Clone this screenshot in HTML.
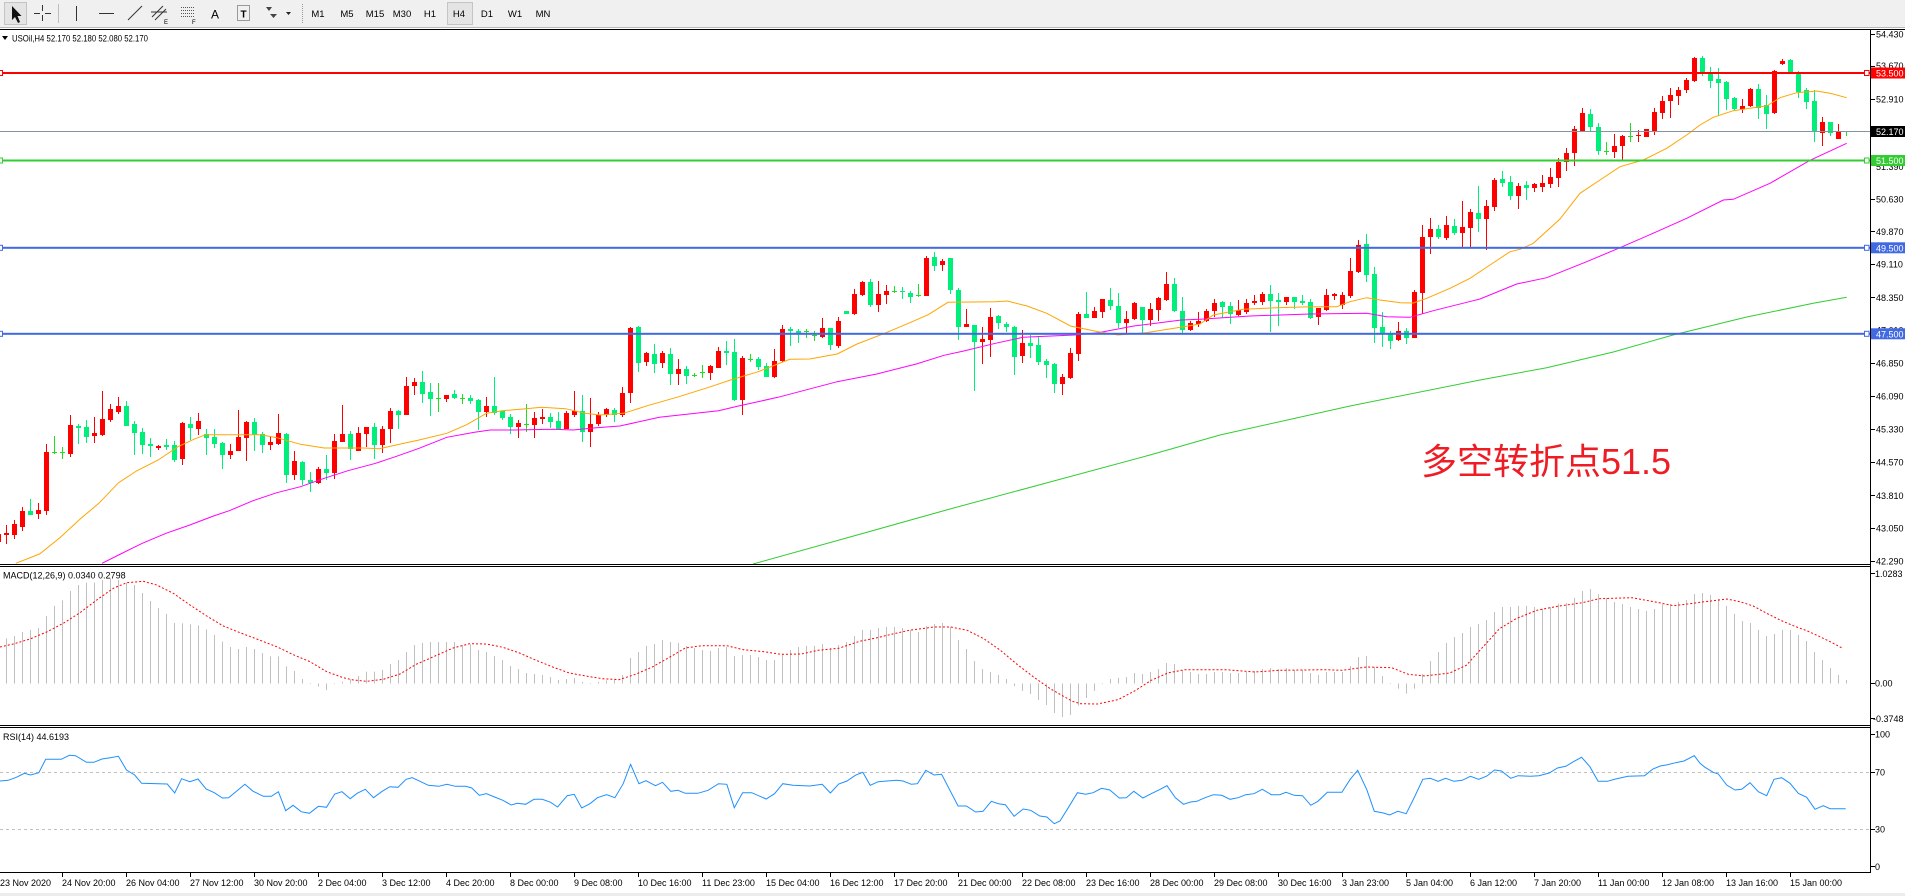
<!DOCTYPE html>
<html><head><meta charset="utf-8"><style>
html,body{margin:0;padding:0;background:#fff;width:1905px;height:896px;overflow:hidden}
svg{display:block}
text{font-family:"Liberation Sans","Noto Sans CJK SC",sans-serif;fill:#000}
</style></head><body>
<svg id="c" width="1905" height="896" viewBox="0 0 1905 896" xmlns="http://www.w3.org/2000/svg">
<rect width="1905" height="896" fill="#fff"/>
<!-- toolbar -->
<rect x="0" y="0" width="1905" height="27" fill="#f0f0f0"/>
<line x1="0" y1="27.5" x2="1905" y2="27.5" stroke="#b8b8b8"/>
<rect x="4.5" y="2.5" width="22" height="22" fill="#e4e4e4" stroke="#c4c4c4"/>
<polygon points="12,6 12,20 15,17 18,23 20,22 17.5,16 21.5,16" fill="#111"/>
<g stroke="#333" stroke-width="1">
<line x1="42.5" y1="5" x2="42.5" y2="11"/><line x1="42.5" y1="15" x2="42.5" y2="21"/>
<line x1="34" y1="13.5" x2="40" y2="13.5"/><line x1="45" y1="13.5" x2="51" y2="13.5"/>
<line x1="76.5" y1="6" x2="76.5" y2="21"/>
<line x1="99" y1="13.5" x2="114" y2="13.5"/>
<line x1="128" y1="20" x2="142" y2="6"/>
<line x1="152" y1="17" x2="163" y2="6"/><line x1="155" y1="20" x2="166" y2="9"/><line x1="151" y1="12" x2="167" y2="12"/>
</g>
<line x1="58.5" y1="4" x2="58.5" y2="23" stroke="#bdbdbd"/>
<text x="164" y="24" font-size="6">E</text>
<g stroke="#555" stroke-dasharray="1,1"><line x1="181" y1="7.5" x2="195" y2="7.5"/><line x1="181" y1="10.5" x2="195" y2="10.5"/><line x1="181" y1="13.5" x2="195" y2="13.5"/><line x1="181" y1="16.5" x2="195" y2="16.5"/></g>
<text x="192" y="24" font-size="6">F</text>
<text x="215" y="18.5" font-size="12" text-anchor="middle" fill="#222">A</text>
<rect x="237.5" y="5.5" width="12" height="15" fill="none" stroke="#444" stroke-dasharray="1,1"/>
<text x="243.5" y="17.5" font-size="10" text-anchor="middle" font-weight="bold">T</text>
<polygon points="266,7 272,7 269,11" fill="#444"/><polygon points="270,14 277,14 273.5,18" fill="#444"/>
<polygon points="286,12 291,12 288.5,15" fill="#222"/>
<line x1="302.5" y1="4" x2="302.5" y2="23" stroke="#999" stroke-dasharray="1,1"/>
<rect x="447.5" y="2.5" width="25" height="22" fill="#e4e4e4" stroke="#c4c4c4"/>
<g font-size="9.5" text-anchor="middle">
<text x="318" y="17">M1</text><text x="347" y="17">M5</text><text x="375" y="17">M15</text><text x="402" y="17">M30</text><text x="430" y="17">H1</text><text x="459" y="17">H4</text><text x="487" y="17">D1</text><text x="515" y="17">W1</text><text x="543" y="17">MN</text>
</g>

<g id="candles"></g>
<g id="mas"></g>

<!-- horizontal lines -->
<line x1="0" y1="131.5" x2="1871" y2="131.5" stroke="#8494a4"/>
<rect x="0" y="72" width="1871" height="2" fill="#ff0000"/>
<rect x="0" y="159.5" width="1871" height="2" fill="#32cd32"/>
<rect x="0" y="246.8" width="1871" height="2" fill="#4169e1"/>
<rect x="0" y="332.8" width="1871" height="2" fill="#4169e1"/>
<g fill="#fff" stroke-width="1">
<rect x="-1.5" y="70.5" width="4" height="5" stroke="#ff0000"/><rect x="1864.5" y="70.5" width="4.5" height="5" stroke="#ff0000"/>
<rect x="-1.5" y="158" width="4" height="5" stroke="#32cd32"/><rect x="1864.5" y="158" width="4.5" height="5" stroke="#32cd32"/>
<rect x="-1.5" y="245.3" width="4" height="5" stroke="#4169e1"/><rect x="1864.5" y="245.3" width="4.5" height="5" stroke="#4169e1"/>
<rect x="-1.5" y="331.3" width="4" height="5" stroke="#4169e1"/><rect x="1864.5" y="331.3" width="4.5" height="5" stroke="#4169e1"/>
</g>

<!-- annotation -->
<text x="1421" y="474" font-size="36" style="fill:#ee1c24">多空转折点51.5</text>

<!-- indicator panels -->
<g id="ind"></g>
<line x1="0" y1="772.5" x2="1871" y2="772.5" stroke="#c0c0c0" stroke-dasharray="3,3"/>
<line x1="0" y1="829.5" x2="1871" y2="829.5" stroke="#c0c0c0" stroke-dasharray="3,3"/>
<g id="rsi"></g>

<!-- frames -->
<g stroke="#000" stroke-width="1">
<line x1="0" y1="29.5" x2="1905" y2="29.5"/>
<line x1="0" y1="564.5" x2="1871" y2="564.5"/>
<line x1="0" y1="566.5" x2="1871" y2="566.5"/>
<line x1="0" y1="725.5" x2="1871" y2="725.5"/>
<line x1="0" y1="727.5" x2="1871" y2="727.5"/>
<line x1="0" y1="872.5" x2="1871" y2="872.5"/>
<line x1="1870.5" y1="29.5" x2="1870.5" y2="873"/>
</g>
<rect x="0" y="893" width="1905" height="3" fill="#ececec"/>

<!-- header labels -->
<polygon points="2,36 8,36 5,40" fill="#000"/>
<text x="12" y="41.5" font-size="9" textLength="136" lengthAdjust="spacingAndGlyphs">USOil,H4  52.170 52.180 52.080 52.170</text>
<text x="3" y="578.5" font-size="9">MACD(12,26,9) 0.0340 0.2798</text>
<text x="3" y="740" font-size="9">RSI(14) 44.6193</text>

<!-- price axis -->
<g stroke="#000">
<line x1="1871" y1="34.5" x2="1875" y2="34.5"/><line x1="1871" y1="66.5" x2="1875" y2="66.5"/><line x1="1871" y1="99.5" x2="1875" y2="99.5"/>
<line x1="1871" y1="199.5" x2="1875" y2="199.5"/><line x1="1871" y1="231.5" x2="1875" y2="231.5"/><line x1="1871" y1="264.5" x2="1875" y2="264.5"/>
<line x1="1871" y1="297.5" x2="1875" y2="297.5"/><line x1="1871" y1="363.5" x2="1875" y2="363.5"/><line x1="1871" y1="396.5" x2="1875" y2="396.5"/>
<line x1="1871" y1="429.5" x2="1875" y2="429.5"/><line x1="1871" y1="462.5" x2="1875" y2="462.5"/><line x1="1871" y1="495.5" x2="1875" y2="495.5"/>
<line x1="1871" y1="528.5" x2="1875" y2="528.5"/><line x1="1871" y1="561.5" x2="1875" y2="561.5"/>
<line x1="1871" y1="573.5" x2="1875" y2="573.5"/><line x1="1871" y1="683.5" x2="1875" y2="683.5"/><line x1="1871" y1="718.5" x2="1875" y2="718.5"/>
<line x1="1871" y1="734.5" x2="1875" y2="734.5"/><line x1="1871" y1="772.5" x2="1875" y2="772.5"/><line x1="1871" y1="829.5" x2="1875" y2="829.5"/><line x1="1871" y1="866.5" x2="1875" y2="866.5"/>
</g>
<g font-size="9">
<text x="1876" y="37.3">54.430</text>
<text x="1876" y="69">53.670</text>
<text x="1876" y="102.6">52.910</text>
<text x="1876" y="169.8">51.390</text>
<text x="1876" y="202.3">50.630</text>
<text x="1876" y="235">49.870</text>
<text x="1876" y="267.3">49.110</text>
<text x="1876" y="301">48.350</text>
<text x="1876" y="333.3">47.610</text>
<text x="1876" y="366.3">46.850</text>
<text x="1876" y="399.3">46.090</text>
<text x="1876" y="432.3">45.330</text>
<text x="1876" y="465.3">44.570</text>
<text x="1876" y="499">43.810</text>
<text x="1876" y="531.3">43.050</text>
<text x="1876" y="564.3">42.290</text>
<text x="1875" y="577">1.0283</text>
<text x="1875" y="686.6">0.00</text>
<text x="1873" y="722">-0.3748</text>
<text x="1875" y="737.6">100</text>
<text x="1875" y="775.6">70</text>
<text x="1875" y="832.6">30</text>
<text x="1875" y="870">0</text>
</g>
<rect x="1871" y="67.5" width="34" height="11" fill="#ff0000"/>
<rect x="1871" y="126" width="34" height="11" fill="#000"/>
<rect x="1871" y="155" width="34" height="11" fill="#32cd32"/>
<rect x="1871" y="242.3" width="34" height="11" fill="#4169e1"/>
<rect x="1871" y="328.3" width="34" height="11" fill="#4169e1"/>
<g font-size="9" style="fill:#fff">
<text x="1876" y="76.6" style="fill:#fff">53.500</text>
<text x="1876" y="135" style="fill:#fff">52.170</text>
<text x="1876" y="164" style="fill:#fff">51.500</text>
<text x="1876" y="251.3" style="fill:#fff">49.500</text>
<text x="1876" y="337.3" style="fill:#fff">47.500</text>
</g>

<!-- time axis -->
<g stroke="#000">
<line x1="62.5" y1="873" x2="62.5" y2="877"/><line x1="126.5" y1="873" x2="126.5" y2="877"/><line x1="190.5" y1="873" x2="190.5" y2="877"/><line x1="254.5" y1="873" x2="254.5" y2="877"/><line x1="318.5" y1="873" x2="318.5" y2="877"/><line x1="382.5" y1="873" x2="382.5" y2="877"/><line x1="446.5" y1="873" x2="446.5" y2="877"/><line x1="510.5" y1="873" x2="510.5" y2="877"/><line x1="574.5" y1="873" x2="574.5" y2="877"/><line x1="638.5" y1="873" x2="638.5" y2="877"/><line x1="702.5" y1="873" x2="702.5" y2="877"/><line x1="766.5" y1="873" x2="766.5" y2="877"/><line x1="830.5" y1="873" x2="830.5" y2="877"/><line x1="894.5" y1="873" x2="894.5" y2="877"/><line x1="958.5" y1="873" x2="958.5" y2="877"/><line x1="1022.5" y1="873" x2="1022.5" y2="877"/><line x1="1086.5" y1="873" x2="1086.5" y2="877"/><line x1="1150.5" y1="873" x2="1150.5" y2="877"/><line x1="1214.5" y1="873" x2="1214.5" y2="877"/><line x1="1278.5" y1="873" x2="1278.5" y2="877"/><line x1="1342.5" y1="873" x2="1342.5" y2="877"/><line x1="1406.5" y1="873" x2="1406.5" y2="877"/><line x1="1470.5" y1="873" x2="1470.5" y2="877"/><line x1="1534.5" y1="873" x2="1534.5" y2="877"/><line x1="1598.5" y1="873" x2="1598.5" y2="877"/><line x1="1662.5" y1="873" x2="1662.5" y2="877"/><line x1="1726.5" y1="873" x2="1726.5" y2="877"/><line x1="1790.5" y1="873" x2="1790.5" y2="877"/>
</g>
<g font-size="9">
<text x="0" y="886">23 Nov 2020</text>
<text x="62" y="886">24 Nov 20:00</text>
<text x="126" y="886">26 Nov 04:00</text>
<text x="190" y="886">27 Nov 12:00</text>
<text x="254" y="886">30 Nov 20:00</text>
<text x="318" y="886">2 Dec 04:00</text>
<text x="382" y="886">3 Dec 12:00</text>
<text x="446" y="886">4 Dec 20:00</text>
<text x="510" y="886">8 Dec 00:00</text>
<text x="574" y="886">9 Dec 08:00</text>
<text x="638" y="886">10 Dec 16:00</text>
<text x="702" y="886">11 Dec 23:00</text>
<text x="766" y="886">15 Dec 04:00</text>
<text x="830" y="886">16 Dec 12:00</text>
<text x="894" y="886">17 Dec 20:00</text>
<text x="958" y="886">21 Dec 00:00</text>
<text x="1022" y="886">22 Dec 08:00</text>
<text x="1086" y="886">23 Dec 16:00</text>
<text x="1150" y="886">28 Dec 00:00</text>
<text x="1214" y="886">29 Dec 08:00</text>
<text x="1278" y="886">30 Dec 16:00</text>
<text x="1342" y="886">3 Jan 23:00</text>
<text x="1406" y="886">5 Jan 04:00</text>
<text x="1470" y="886">6 Jan 12:00</text>
<text x="1534" y="886">7 Jan 20:00</text>
<text x="1598" y="886">11 Jan 00:00</text>
<text x="1662" y="886">12 Jan 08:00</text>
<text x="1726" y="886">13 Jan 16:00</text>
<text x="1790" y="886">15 Jan 00:00</text>
</g>
</svg>
<script>
(function(){
var NS='http://www.w3.org/2000/svg';
function el(tag,a,p){var e=document.createElementNS(NS,tag);for(var k in a)e.setAttribute(k,a[k]);p.appendChild(e);return e;}
var gC=document.getElementById('candles'),gM=document.getElementById('mas'),gI=document.getElementById('ind'),gR=document.getElementById('rsi');
function rect(p,x,y,w,h,f){el('rect',{x:x,y:y,width:w,height:h,fill:f},p);}
function candles(start,off,str){
 str.split(';').forEach(function(s,k){s=s.trim();if(!s)return;var p=s.split(',');var i=start+k;var c=6+8*i;
  var col=p[0]=='r'?'#ff0000':(p[0]=='g'?'#00ef7b':'#22dd22');
  var bt=Math.round(off+(+p[1])/3),bb=Math.round(off+(+p[2])/3),wt=Math.round(off+(+p[3])/3),wb=Math.round(off+(+p[4])/3);
  rect(gC,c,wt,1,Math.max(wb-wt,1),col);rect(gC,c-2,bt,5,Math.max(bb-bt,1),col);
 });
}
candles(-1,300,"r,703,725,690,735;r,700,706,676,733;r,673,705,660,718;r,633,680,622,692;g,633,644,598,644;r,630,641,609,656;r,456,632,432,644;d,455,455,408,463;d,457,457,441,478;r,375,462,345,470;g,378,383,372,431;g,381,410,360,428;r,399,407,351,428;r,357,406,273,408;r,327,360,311,366;r,318,335,291,343;g,318,377,303,377;g,372,398,364,466;g,396,434,384,461;g,432,437,414,470;r,437,443,434,451;g,435,441,418,451;g,435,480,422,485;r,368,476,365,494;g,372,383,352,419;r,363,386,340,405;g,403,413,387,465;g,410,431,387,443;g,429,464,425,508;r,453,464,432,477;r,411,452,330,452;r,365,413,362,482;g,366,406,353,453;g,403,434,397,459;r,426,435,409,449;r,399,432,342,436;g,402,524,399,548;r,483,524,452,540;g,487,541,483,556;g,541,550,516,575;r,507,550,500,552;g,507,518,465,540;r,423,520,401,538;r,402,425,315,425;g,402,448,392,480;r,399,452,381,452;r,381,401,381,440;g,381,435,370,477;r,387,434,377,458;r,333,387,325,428;g,333,344,330,387;r,258,344,231,344;r,246,257,235,285;g,246,281,213,309;g,276,296,249,347;d,295,295,249,335;r,286,296,285,307;g,283,293,270,296;d,295,295,282,313;g,293,302,285,313;g,299,335,297,389;r,318,335,291,351;g,318,339,231,346;g,334,354,334,359;g,351,380,342,401;r,369,380,360,413;d,373,373,311,395;r,354,374,337,413;r,350,356,327,371;g,351,365,339,385;g,363,388,336,389;r,340,388,333,388;r,333,344,273,352;g,334,395,285,425;r,372,395,294,440;r,345,372,335,378;r,328,345,323,352;g,330,345,324,365");
candles(77,200,"r,579,645,562,650;r,383,578,381,608;g,381,488,377,515;r,459,485,456,497;g,462,491,432,520;r,459,488,454,505;g,462,521,444,555;r,507,521,477,556;g,507,527,497,552;d,525,525,519,532;d,515,515,496,533;r,498,518,496,540;r,453,503,441,503;g,453,459,424,495;g,456,599,416,604;r,474,600,469,645;d,478,478,463,485;g,477,500,471,510;g,497,530,490,531;r,484,530,448,534;r,387,484,375,486;g,387,392,380,437;g,392,398,386,428;d,394,394,387,413;d,405,405,394,424;r,384,410,353,414;g,384,434,384,451;r,363,439,350,443;g,333,341,333,341;r,281,341,267,345;r,247,285,242,287;g,245,314,237,321;r,282,316,243,335;r,273,284,256,312;d,273,273,259,280;g,272,276,262,297;g,279,290,273,308;d,286,286,253,291;r,174,287,168,287;g,172,197,156,214;r,183,195,178,212;g,174,269,174,281;g,269,381,263,420;r,371,381,327,382;g,376,425,374,572;r,417,426,381,492;r,351,419,323,471;g,348,368,344,386;g,372,381,365,397;g,380,470,378,525;r,429,468,390,489;g,429,437,405,473;g,434,485,407,494;g,482,494,476,533;g,492,552,490,579;r,531,553,522,584;r,459,534,444,537;r,342,461,336,482;g,342,353,276,355;r,333,353,322,354;r,297,337,297,353;g,300,317,264,329;g,318,369,278,384;r,357,370,333,398;r,309,357,306,359;g,321,360,321,398;r,327,360,310,378;r,293,329,290,362;r,252,300,215,303;g,251,332,234,335;g,334,389,292,399;r,369,390,362,393;r,362,372,336,380;r,333,362,327,367;r,309,333,296,352");
candles(152,110,"g,576,591,574,625;g,589,613,576,641;r,600,614,570,618;r,578,607,567,612;r,572,578,555,586;r,551,575,547,586;g,551,572,524,665;g,570,575,548,647;r,561,576,561,584;g,561,575,561,597;g,572,578,555,585;g,576,624,568,627;r,594,620,593,645;r,555,600,536,604;r,553,559,548,569;r,555,585,545,597;r,483,557,444,563;r,404,487,390,489;g,402,494,372,516;g,492,653,471,700;g,652,672,605,710;g,671,692,662,718;r,663,690,636,694;g,663,683,654,701;r,545,683,541,684;r,381,548,346,612;r,357,381,323,433;g,357,381,345,386;r,345,384,318,390;g,348,368,327,375;r,351,368,272,411;r,305,354,297,411;g,309,327,228,367;r,288,327,269,419");
candles(186,20,"r,480,560,473,572;g,477,488,453,500;g,487,527,467,540;r,497,527,490,566;g,495,503,483,540;r,493,503,490,516;r,490,500,464,516;r,470,493,445,505;r,425,473,413,500;r,398,425,384,452;r,327,400,318,437;r,278,333,263,334;g,282,322,266,332;g,321,393,309,404;d,393,393,366,404;r,378,395,343,414;r,348,378,345,420;d,349,349,309,365;r,344,348,331,365;r,327,351,327,351;r,276,333,263,346;r,242,278,229,296;r,225,242,203,293;r,210,228,200,254;r,179,211,175,218;r,113,183,110,185;g,113,155,108,167;g,155,183,141,203;g,176,190,144,287;g,187,237,182,269;g,234,268,231,271;r,258,267,237,280;r,208,257,204,260;g,208,263,193,298;g,255,281,226,328;r,152,280,150,281;r,122,132,117,136;g,120,156,117,158;g,155,215,152,233;g,211,245,203,268;g,243,337,210,366;r,306,340,292,378;g,306,340,306,348;r,333,356,312,356;d,334,334,334,348");

function pl(p,pts,stroke,extra){var s=pts.map(function(q){return q[0].toFixed(1)+','+q[1].toFixed(1);}).join(' ');var a={points:s,fill:'none',stroke:stroke,'stroke-width':1};if(extra)for(var k in extra)a[k]=extra[k];el('polyline',a,p);}
function tr(arr,x0,sx,y0){return arr.map(function(q){return [x0+q[0]/sx,y0+q[1]/3];});}

var orange=[[15.8,563.3],[39.5,554],[59.3,538.3],[81,518.3],[98.8,503.3],[118.6,482.7],[136.4,471],[158.2,460],[178,446.7],[193.8,439.3],[205.6,434.7],[261,434.7],[276.8,437.7],[300.5,444.3],[324.2,448],[363.8,448],[379.6,448.7],[399.4,444.3],[419,440],[446.8,433.3],[466.6,424.7],[486.4,413.3],[502.2,410.7],[525.9,408.7],[541.7,407.3],[565.4,408.7],[585.2,413.3],[600,415],[623.7,413.3],[647.4,405.7],[679,396.7],[710.7,386.7],[730.5,380],[758.2,371.7],[789.8,359.3],[809.6,359],[837.2,354],[857,344],[884.7,333.3],[908.4,323.3],[928.2,314.7],[948,302.3],[995.4,301.7],[1007.3,301],[1027,306],[1046.8,313.3],[1070.5,326],[1098.2,331.7],[1118,335],[1145.7,332.7],[1177.3,327.7],[1200,324],[1213.3,315],[1243.3,309.3],[1276.7,307.7],[1310,306.7],[1336.7,306.7],[1350,301.7],[1366.7,297.7],[1380,300],[1400,302.7],[1413.3,303],[1426.7,298.3],[1450,288.3],[1470,278.3],[1490,265],[1510,251.7],[1520,249.3],[1533.3,243.3],[1560,219],[1580,193.3],[1600,180],[1620,166.7],[1643.3,160],[1666.7,148.3],[1686.7,135],[1700,125],[1713.3,117.3],[1733.3,110.7],[1756.7,107.3],[1766.7,106],[1780,97.7],[1796.7,92.7],[1816.7,91],[1830,93.3],[1846.7,97.7]];
var magenta=[[102,563.3],[118.6,555],[142.3,543.3],[166,533.3],[189.8,525],[213.5,516],[229.3,510.7],[253,500.7],[276.8,492.7],[300.5,486.7],[324.2,478.3],[348,470.7],[375.6,463.3],[395.4,456.7],[419.1,448.3],[446.8,437.3],[474.5,432.3],[490.3,430],[514,430],[553.6,429.3],[573.3,430],[593.1,428],[619.8,426],[659.3,417.3],[718.6,410.7],[738.4,406],[777.9,397.3],[837.2,381.7],[876.8,374],[916.3,364],[944,355.3],[963.8,351],[995.4,343.3],[1023,337.3],[1074.5,335],[1098.2,332.7],[1133.8,326],[1181.3,320],[1200,319.3],[1250,316],[1310,314],[1366.7,313.3],[1386.7,316.7],[1410,317.3],[1433.3,310.7],[1473.3,300.7],[1480,299],[1516.7,284],[1546.7,277.7],[1586.7,261.7],[1620,247.7],[1656.7,231.7],[1686.7,218.3],[1723.3,200],[1733.3,199.3],[1770,183.3],[1810,160.3],[1846.7,143.3]];
var green=[[753,564],[850,537],[950,509],[1050,482],[1150,455],[1220,435],[1350,406],[1480,380],[1546.7,367.7],[1613.3,352],[1673,335],[1746.7,317],[1813.3,303.3],[1846.7,297.3]];
pl(gM,green,'#32cd32');pl(gM,magenta,'#ff00ff');pl(gM,orange,'#ffa500');

function hist(start,off,arr){arr.forEach(function(v,k){var i=start+k;var y=off+v/3;var z=683.5;var c=6+8*i;rect(gI,c,Math.min(y,z),1,Math.max(Math.abs(y-z),0.6),'#c0c0c0');});}
hist(0,540,[295,288,276,270,264,228,198,181,153,135,128,128,120,115,120,128,135,159,183,204,222,249,250,253,256,268,285,305,321,327,321,327,339,349,349,379,393,417,430,440,450,432,425,418,408,395,395,390,372,360,336,315]);
hist(52,567,[228,225,225,225,225,235,232,249,255,267,279,297,306,318,321,324,330,339,336,333,345,348,345,340,338,324,273,255,237,231,219,225,228,237,243,249,252,243,240,267,264,264,270,279,279,261,249,240,237,237,231,243,234,225,207,189,189,183,180,180,183,189,195,177,171,168,180,219,246,282,306,315,324,336,357,372,381,399,414,438]);
hist(132,567,[450,444,416,393,372,350,336,333,330,318,321,315,306,288,291,309,315,321,321,315,315,318,318,315,312,306,303,306,303,309,309,318,324,315,315,315,297,270,267,300,327,348,365,380,365,321,282,255,228,210,198,180,171,159,135,120,120,117,117,120,125,120,110,108,93,72,66,81,93,105,111,120,126,132,126,111,111,105,99,81]);
hist(212,480,[339,345,357,378,402,423,429,450,468,462,450,450,465,483,516,540,564,585,600]);

var sig=[].concat(
 tr([[0,321],[40,312],[90,297],[140,276],[190,250],[240,218],[290,180],[340,145],[380,128],[430,124],[470,135],[520,160],[570,195],[620,228],[670,258],[720,278],[770,297],[830,320],[880,344],[930,365],[980,395],[1030,413],[1060,420],[1100,424],[1150,418],[1200,402],[1250,372]],0,3,540),
 tr([[0,287],[40,265],[80,243],[120,230],[160,231],[200,241],[240,258],[280,280],[320,300],[360,318],[400,327],[440,335],[480,338],[520,322],[560,300],[600,272],[640,243],[680,236],[740,236],[780,248],[830,254],[870,262],[920,261],[960,250],[1010,244],[1060,223],[1100,213],[1140,201],[1180,190],[1240,180],[1280,180],[1320,190],[1360,215],[1400,250],[1440,292],[1480,330],[1520,365]],420,2.412,567),
 tr([[0,382],[30,403],[50,410],[90,411],[140,398],[180,372],[220,340],[260,318],[300,308],[400,308],[470,315],[530,310],[640,308],[680,310],[740,300],[800,302],[840,322],[880,327],[940,318],[980,295],[1020,240],[1060,185],[1100,155],[1150,130],[1200,118],[1260,107],[1300,95],[1380,92],[1440,106],[1480,116],[1520,110]],1060,2.412,567),
 tr([[0,367],[40,362],[80,357],[120,365],[160,378],[200,400],[240,420],[280,437],[320,452],[360,470],[400,490],[430,506]],1700,3,480));
pl(gI,sig,'#ff0000',{'stroke-dasharray':'2,2'});

var rsi=[].concat(
 tr([[0,183],[20,181],[40,172],[60,160],[75,165],[95,158],[112,118],[150,118],[170,106],[185,107],[212,127],[230,127],[250,117],[270,113],[290,109],[310,150],[330,165],[347,190],[410,192],[428,219],[445,176],[465,185],[485,177],[505,207],[525,218],[545,234],[560,233],[600,193],[620,214],[645,229],[665,229],[682,215],[700,272],[718,256],[738,275],[758,280],[780,259],[800,262],[820,222],[838,215],[858,236],[875,220],[895,208],[915,233],[935,215],[955,200],[975,202],[995,178],[1010,173]],0,2.45,720),
 tr([[0,643],[20,655],[45,658],[65,652],[85,658],[110,658],[125,663],[143,685],[160,680],[180,690],[200,700],[220,714],[235,709],[255,712],[275,697],[295,697],[315,706],[332,720],[355,686],[372,682],[390,723],[410,710],[428,692],[450,683],[470,692],[490,650],[508,592],[528,650],[545,641],[568,656],[585,646],[605,673],[622,670],[640,679],[670,679],[695,670],[720,650],[740,652],[758,722],[778,677],[800,677],[835,696],[855,680],[875,650],[900,655],[940,657],[970,652],[990,678],[1010,651],[1030,642],[1050,625],[1068,616],[1086,655],[1105,644],[1150,640],[1165,642],[1185,652],[1200,650],[1220,610],[1240,624],[1258,622],[1298,717],[1318,717],[1340,735],[1358,733],[1378,703],[1395,710],[1412,713],[1433,748],[1455,726],[1473,730],[1495,747],[1512,750],[1530,770]],420,2.412,567),
 tr([[0,762],[20,722],[42,677],[62,682],[80,677],[100,664],[120,669],[143,693],[160,692],[178,673],[200,693],[220,680],[240,668],[258,656],[278,692],[298,712],[315,705],[330,703],[350,692],[370,683],[390,685],[410,697],[430,692],[448,683],[468,680],[488,667],[510,683],[530,683],[545,676],[565,685],[585,686],[605,715],[622,703],[645,676],[680,676],[700,637],[718,610],[740,668],[758,733],[780,738],[795,744],[815,733],[835,740],[855,690],[875,637],[893,634],[912,643],[930,634],[950,643],[970,640],[990,628],[1010,637],[1030,627],[1048,609],[1065,612],[1087,634],[1105,626],[1135,628],[1155,626],[1180,618],[1200,603],[1220,598],[1240,583],[1258,571],[1278,599],[1298,643],[1320,643],[1340,636],[1370,628],[1410,626],[1430,606],[1448,597],[1465,593],[1485,587],[1505,582],[1530,566]],1060,2.412,567),
 tr([[0,850],[15,862],[40,877],[55,882],[80,915],[105,930],[125,928],[150,908],[175,935],[200,947],[222,898],[245,893],[270,910],[295,940],[320,952],[345,988],[370,977],[390,986],[437,986]],1700,3,480));
pl(gR,rsi,'#1e90ff');
})();
</script>
</body></html>
